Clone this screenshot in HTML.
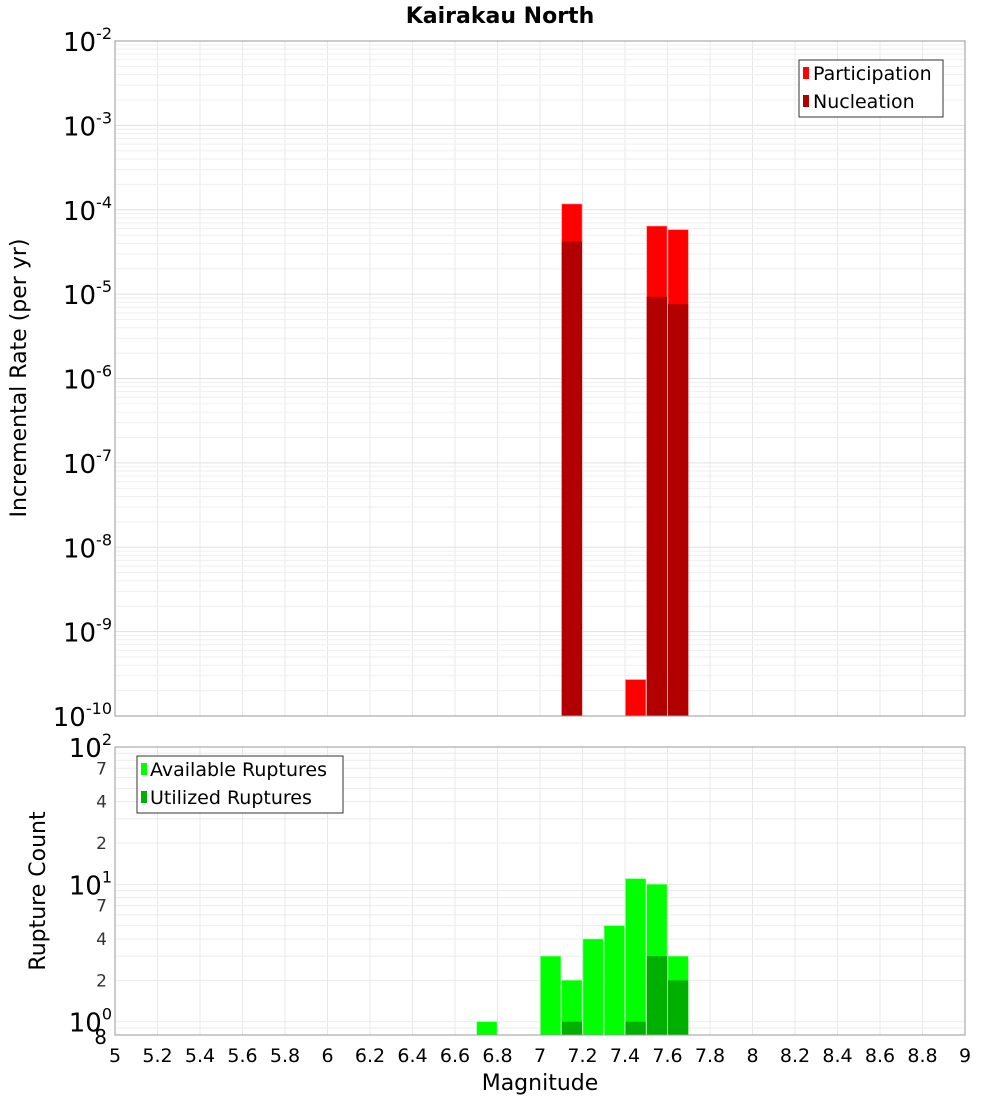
<!DOCTYPE html>
<html><head><meta charset="utf-8"><style>
body{margin:0;background:#fff;}
svg{display:block;font-family:"DejaVu Sans","Liberation Sans",sans-serif;}
</style></head><body>
<svg id="chart" width="1000" height="1100">
<text x="500" y="23" text-anchor="middle" font-size="22" font-weight="bold">Kairakau North</text>
<g id="grid"></g>
<g id="bars"></g>
<rect x="115" y="41" width="850" height="675" fill="none" stroke="#999"/>
<rect x="115" y="747" width="850" height="288" fill="none" stroke="#999"/>
<g id="axes"></g>
<text transform="translate(26,378) rotate(-90)" text-anchor="middle" font-size="22">Incremental Rate (per yr)</text>
<text transform="translate(45,891) rotate(-90)" text-anchor="middle" font-size="22">Rupture Count</text>
<text x="540" y="1090" text-anchor="middle" font-size="22">Magnitude</text>
<g>
<rect x="799" y="60" width="144" height="57" fill="#fff" stroke="#333"/>
<rect x="803" y="67" width="6" height="12" fill="#ff0000"/>
<text x="813" y="80" font-size="19">Participation</text>
<rect x="803" y="95" width="6" height="12" fill="#b20000"/>
<text x="813" y="108" font-size="19">Nucleation</text>
</g>
<g>
<rect x="137" y="756" width="206" height="57" fill="#fff" stroke="#333"/>
<rect x="141" y="763" width="6" height="12" fill="#00ff00"/>
<text x="150" y="776" font-size="19">Available Ruptures</text>
<rect x="141" y="791" width="6" height="12" fill="#00b000"/>
<text x="150" y="804" font-size="19">Utilized Ruptures</text>
</g>
</svg>
<script>
const topMags=[7.15,7.45,7.55,7.65];
const participation=[1.17e-4,2.7e-10,6.4e-5,5.8e-5];
const nucleation=[4.2e-5,0,9.3e-6,7.6e-6];
const botMags=[6.75,7.05,7.15,7.25,7.35,7.45,7.55,7.65];
const available=[1,3,2,4,5,11,10,3];
const utilized=[0,0,1,0,0,1,3,2];
const xTicks=[5,5.2,5.4,5.6,5.8,6,6.2,6.4,6.6,6.8,7,7.2,7.4,7.6,7.8,8,8.2,8.4,8.6,8.8,9];
const topExps=[-2,-3,-4,-5,-6,-7,-8,-9,-10];
const botExps=[2,1,0];
const botMinor=[7,4,2];

const NS="http://www.w3.org/2000/svg";
const X0=115,X1=965;
const x=m=>X0+(m-5)/4*(X1-X0);
const T0=41,T1=716;
const yTop=v=>T0+(-2-Math.log10(v))/8*(T1-T0);
const B0=747,B1=1035,bmin=0.8,bmax=100;
const yBot=v=>B0+(Math.log10(bmax)-Math.log10(v))/(Math.log10(bmax)-Math.log10(bmin))*(B1-B0);
function mk(tag,attrs,parent){const e=document.createElementNS(NS,tag);for(const k in attrs)e.setAttribute(k,attrs[k]);parent.appendChild(e);return e;}
const grid=document.getElementById('grid'),bars=document.getElementById('bars'),axes=document.getElementById('axes');
xTicks.forEach(t=>{
 const l1=mk('line',{x1:x(t),x2:x(t),y1:T0,y2:T1,stroke:'#e8e8e8'},grid);
 
 
 const l2=mk('line',{x1:x(t),x2:x(t),y1:B0,y2:B1,stroke:'#e8e8e8'},grid);
 
 
 const tx=mk('text',{x:x(t),y:1062,'text-anchor':'middle','font-size':'19'},axes);
 tx.textContent=String(t);
 
 
});
for(let e=-10;e<-2;e++){for(let k=1;k<10;k++){const v=k*Math.pow(10,e);const y=yTop(v);
 const l=mk('line',{x1:X0,x2:X1,y1:y,y2:y,stroke:k==1?'#e0e0e0':'#efefef'},grid);
 
 }}
topExps.forEach(e=>{const y=yTop(Math.pow(10,e));
 const t=mk('text',{x:112,y:y+10,'text-anchor':'end','font-size':'26'},axes);
 t.innerHTML='10<tspan dy="-12" font-size="16">'+e+'</tspan>';
 
 });
for(let e=-1;e<2;e++){for(let k=1;k<10;k++){const v=k*Math.pow(10,e);if(v<bmin||v>bmax)continue;const y=yBot(v);
 const l=mk('line',{x1:X0,x2:X1,y1:y,y2:y,stroke:'#ebebeb'},grid);
 
 }}
botExps.forEach(e=>{const y=yBot(Math.pow(10,e));
 const t=mk('text',{x:112,y:y+10,'text-anchor':'end','font-size':'26'},axes);
 t.innerHTML='10<tspan dy="-12" font-size="16">'+e+'</tspan>';
 
 });
[1,0].forEach(e=>botMinor.forEach(k=>{const y=yBot(k*Math.pow(10,e));
 const t=mk('text',{x:107,y:y+6,'text-anchor':'end','font-size':'17',fill:'#333'},axes);
 t.textContent=k;
 
 }));
{const t=mk('text',{x:107,y:yBot(0.8)+9,'text-anchor':'end','font-size':'20'},axes);t.textContent='8';
 
 }
topMags.forEach((m,i)=>{
 const xl=x(m-0.05),w=x(m+0.05)-xl;
 const b=mk('rect',{x:xl+0.5,y:yTop(participation[i]),width:w-1,height:T1-yTop(participation[i]),fill:'#ff0000',stroke:'#ff8080','stroke-width':'0.6'},bars);
 
 
 if(nucleation[i]>0){const n=mk('rect',{x:xl+0.5,y:yTop(nucleation[i]),width:w-1,height:T1-yTop(nucleation[i]),fill:'#b20000'},bars);
 
 }
});
botMags.forEach((m,i)=>{
 const xl=x(m-0.05),w=x(m+0.05)-xl;
 const b=mk('rect',{x:xl+0.5,y:yBot(available[i]),width:w-1,height:B1-yBot(available[i]),fill:'#00ff00',stroke:'#80ff80','stroke-width':'0.6'},bars);
 
 
 if(utilized[i]>0){const n=mk('rect',{x:xl+0.5,y:yBot(utilized[i]),width:w-1,height:B1-yBot(utilized[i]),fill:'#00b000'},bars);
 
 }
});
</script>
</body></html>
